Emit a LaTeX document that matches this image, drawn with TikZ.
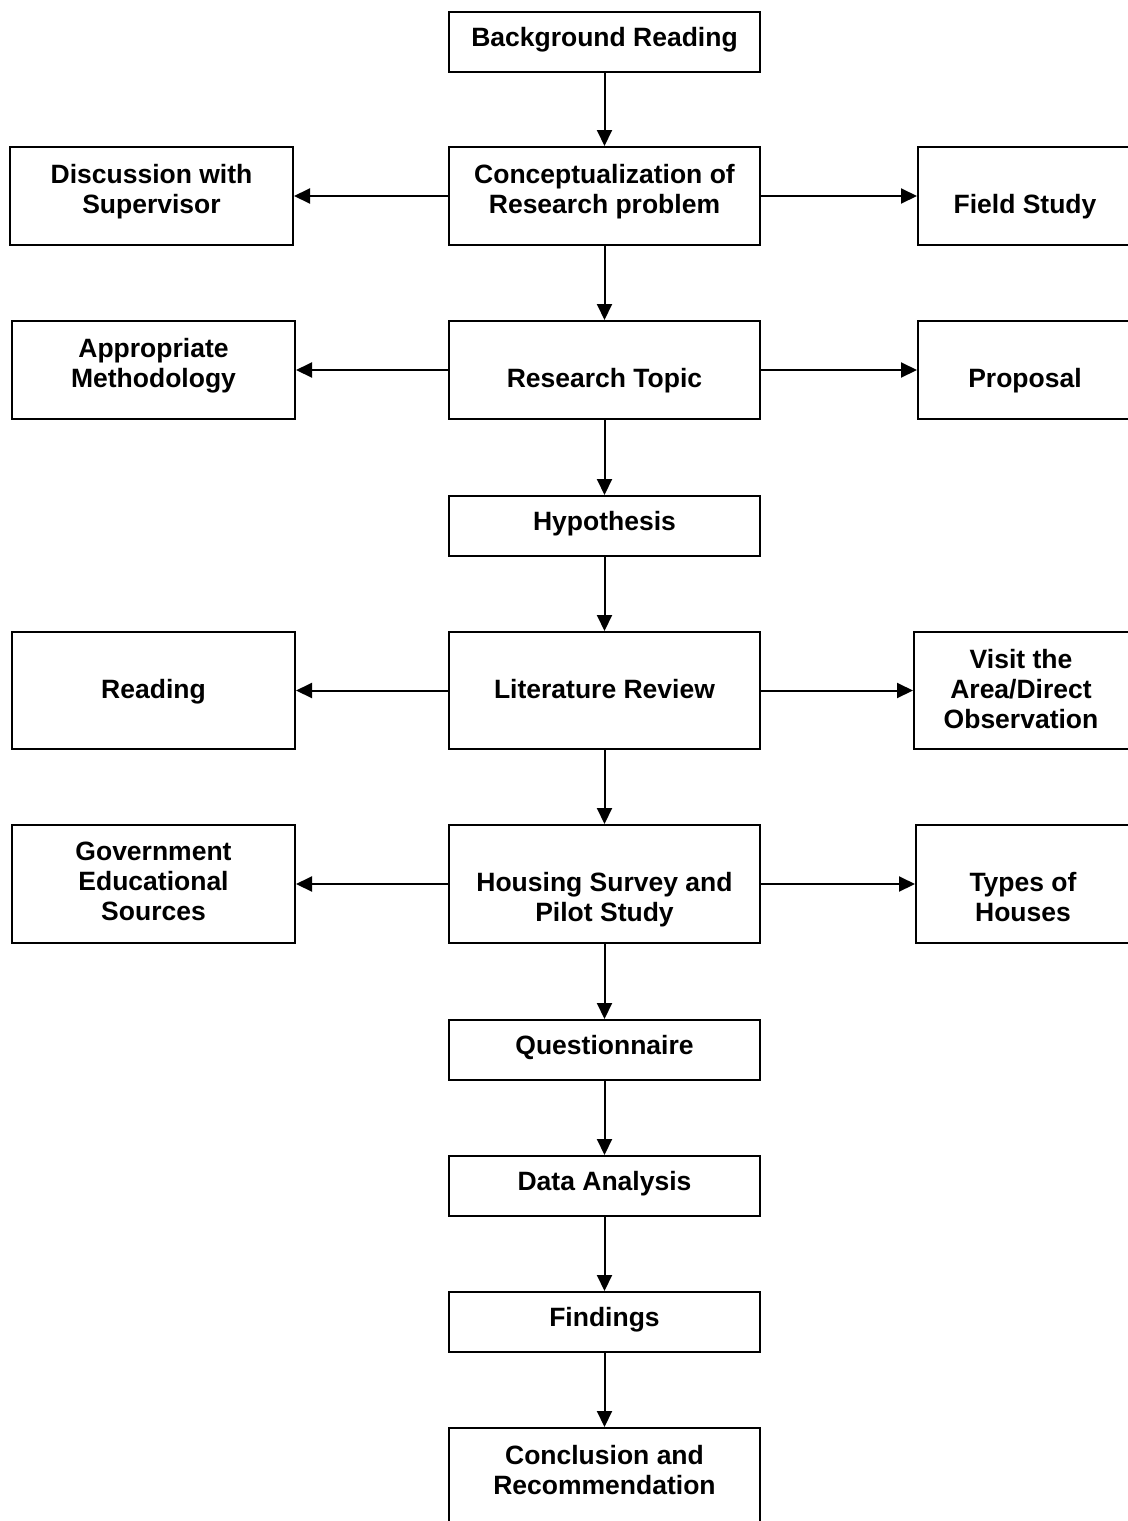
\documentclass[tikz,border=0pt]{standalone}
\usepackage{fontspec}
\setmainfont{Liberation Sans}
\usetikzlibrary{arrows.meta,fit}
\tikzset{
  boxsty/.style={draw=black, line width=1pt, fill=white, inner sep=0pt, rectangle},
  txtsty/.style={anchor=north, inner sep=0pt, align=center, yshift=1pt,
    font=\fontsize{13.25pt}{15pt}\selectfont\bfseries},
  arr/.style={line width=1pt, -{Triangle[length=8pt,width=7.5pt]}}
}
\newcommand\flowbox[8]{%
  \node[boxsty, fit={(#2,#3)(#4,#5)}] (#1) {};
  \node[txtsty] (#1-t) at (#6,#7) {#8};
}
\begin{document}
\begin{tikzpicture}[x=0.5pt,y=-0.5pt]
\useasboundingbox (0,0) rectangle (1128,1521);
\fill[white] (0,0) rectangle (1128,1521);
\clip (0,0) rectangle (1128,1521);

\flowbox{bg}{449}{12}{760}{72}{604.5}{29}{Background Reading}
\flowbox{cp}{449}{147}{760}{245}{604.5}{166}{Conceptualization of\\Research problem}
\flowbox{disc}{10}{147}{293}{245}{151.5}{166}{Discussion with\\Supervisor}
\flowbox{field}{918}{147}{1132}{245}{1025}{196}{Field Study}
\flowbox{topic}{449}{321}{760}{419}{604.5}{370}{Research Topic}
\flowbox{meth}{12}{321}{295}{419}{153.5}{340}{Appropriate\\Methodology}
\flowbox{prop}{918}{321}{1132}{419}{1025}{370}{Proposal}
\flowbox{hyp}{449}{496}{760}{556}{604.5}{513}{Hypothesis}
\flowbox{lit}{449}{632}{760}{749}{604.5}{681}{Literature Review}
\flowbox{read}{12}{632}{295}{749}{153.5}{681}{Reading}
\flowbox{visit}{914}{632}{1130}{749}{1021}{651}{Visit the\\Area/Direct\\Observation}
\flowbox{hous}{449}{825}{760}{943}{604.5}{874}{Housing Survey and\\Pilot Study}
\flowbox{gov}{12}{825}{295}{943}{153.5}{844}{Government\\Educational\\Sources}
\flowbox{types}{916}{825}{1132}{943}{1023}{874}{Types of\\Houses}
\flowbox{quest}{449}{1020}{760}{1080}{604.5}{1037}{Questionnaire}
\flowbox{data}{449}{1156}{760}{1216}{604.5}{1173}{Data Analysis}
\flowbox{find}{449}{1292}{760}{1352}{604.5}{1309}{Findings}
\flowbox{concl}{449}{1428}{760}{1560}{604.5}{1447}{Conclusion and\\Recommendation}

\draw[arr] (bg.south) -- (cp.north);
\draw[arr] (cp.south) -- (topic.north);
\draw[arr] (topic.south) -- (hyp.north);
\draw[arr] (hyp.south) -- (lit.north);
\draw[arr] (lit.south) -- (hous.north);
\draw[arr] (hous.south) -- (quest.north);
\draw[arr] (quest.south) -- (data.north);
\draw[arr] (data.south) -- (find.north);
\draw[arr] (find.south) -- (concl.north);

\draw[arr] (cp.west) -- (disc.east);
\draw[arr] (cp.east) -- (field.west);
\draw[arr] (topic.west) -- (meth.east);
\draw[arr] (topic.east) -- (prop.west);
\draw[arr] (lit.west) -- (read.east);
\draw[arr] (lit.east) -- (visit.west);
\draw[arr] (hous.west) -- (gov.east);
\draw[arr] (hous.east) -- (types.west);
\end{tikzpicture}
\end{document}
